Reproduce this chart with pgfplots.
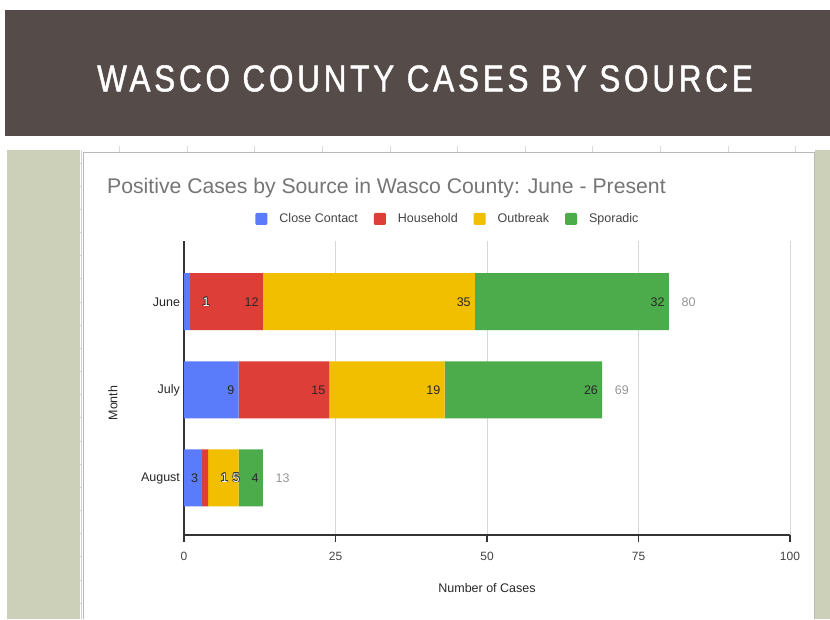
\documentclass[border=0pt]{standalone}
\usepackage{fontspec}
\setmainfont{Liberation Sans}
\newfontfamily\bannerfont[FakeStretch=0.84, FakeBold=1.2, LetterSpace=10]{Liberation Sans}
\usepackage{pgfplots}
\pgfplotsset{compat=1.18}

\definecolor{banner}{RGB}{85,75,72}
\definecolor{side}{RGB}{205,208,185}
\definecolor{ccblue}{RGB}{91,124,250}
\definecolor{hhred}{RGB}{222,62,56}
\definecolor{obyellow}{RGB}{242,190,0}
\definecolor{spgreen}{RGB}{76,172,76}
\definecolor{titlegray}{RGB}{117,117,117}
\definecolor{textdark}{RGB}{40,40,40}
\definecolor{tickgray}{RGB}{68,68,68}
\definecolor{totalgray}{RGB}{150,150,150}
\definecolor{gridgray}{RGB}{215,215,215}
\definecolor{axisdark}{RGB}{51,51,51}

\protected\def\oc#1#2#3{\makebox[0pt][l]{\hspace*{#1}\raisebox{#2}{\textcolor{axisdark}{#3}}}}
\protected\def\outl#1{\oc{-0.8pt}{0pt}{#1}\oc{0.8pt}{0pt}{#1}\oc{0pt}{0.8pt}{#1}\oc{0pt}{-0.8pt}{#1}\oc{0.6pt}{0.6pt}{#1}\oc{-0.6pt}{0.6pt}{#1}\oc{0.6pt}{-0.6pt}{#1}\oc{-0.6pt}{-0.6pt}{#1}\textcolor{white}{#1}}
\protected\def\shl#1#2{\makebox[0pt][l]{\hspace*{#1}\outl{#2}}}
\protected\def\tot#1#2{#1\rlap{\hspace*{17pt}\textcolor{totalgray}{#2}}}

\begin{document}
\begin{tikzpicture}
\path[use as bounding box] (0,0) rectangle (830pt,619pt);
\fill[white] (0,0) rectangle (830pt,619pt);
% banner
\fill[banner] (5pt,483pt) rectangle (830pt,609pt);
\node[white, font=\bannerfont\fontsize{37.5}{37.5}\selectfont] at (425pt,540.5pt) {WASCO COUNTY CASES BY SOURCE};
% side panels
\fill[side] (7pt,0) rectangle (80pt,469pt);
\fill[side] (815pt,0) rectangle (830pt,469pt);
% ruler lines
\draw[gray!35, line width=0.6pt] (81pt,0) -- (81pt,469pt);
\foreach \k in {0,...,19} \draw[gray!35, line width=0.6pt] (78.5pt,{(456-23.16*\k)*1pt}) -- (81pt,{(456-23.16*\k)*1pt});
\foreach \x in {119,187,254,322,390,457,525,592,660,728,795} \draw[gray!30, line width=0.6pt] (\x pt,467pt) -- (\x pt,473pt);
% chart frame
\draw[gray!55, line width=0.8pt] (83pt,0) -- (83pt,467pt) -- (814pt,467pt) -- (814pt,0);
% chart title
\node[anchor=base west, text=titlegray, font=\fontsize{21.2}{21.2}\selectfont, inner sep=0pt] at (107pt,425.7pt) {Positive Cases by Source in Wasco County: June - Present};

\begin{axis}[
  at={(184pt,84pt)}, anchor=south west,
  scale only axis, width=606pt, height=294pt,
  xbar stacked, bar width=57pt,
  xmin=0, xmax=100, ymin=-0.69, ymax=2.65, y dir=reverse,
  ytick={0,1,2}, yticklabels={June,July,August},
  xtick={0,25,50,75,100},
  axis x line*=bottom, axis y line*=left,
  axis line style={axisdark, line width=1.3pt, -},
  xmajorgrids, grid style={gridgray, line width=0.9pt},
  major tick length=7pt, xtick align=outside,
  xtick style={axisdark, line width=1.2pt},
  ytick style={draw=none},
  /pgf/number format/assume math mode=true,
  xticklabel style={font=\fontsize{12}{12}\selectfont, text=tickgray, yshift=-7pt},
  yticklabel style={font=\fontsize{12.5}{12.5}\selectfont, text=textdark, xshift=-0.5pt, yshift=-1pt},
  xlabel={Number of Cases},
  xlabel style={at={(axis description cs:0.5,-0.1803)}, anchor=center, font=\fontsize{12.5}{12.5}\selectfont, text=textdark},
  ylabel={Month},
  ylabel style={at={(axis description cs:-0.1172,0.449)}, anchor=center, font=\fontsize{12.5}{12.5}\selectfont, text=textdark},
  point meta=explicit symbolic,
  nodes near coords,
  visualization depends on={rawx \as \rawx},
  every node near coord/.append style={anchor=east, xshift={(3.03*\rawx-4)*1pt}, inner sep=0pt, font=\fontsize{12.5}{12.5}\selectfont, text=textdark},
  legend style={at={(axis description cs:0.4356,1.075)}, anchor=center, draw=none, fill=none,
    legend columns=4, font=\fontsize{12.5}{12.5}\selectfont, text=tickgray,
    /tikz/every odd column/.append style={column sep=10pt},
    /tikz/every even column/.append style={column sep=14pt}},
  legend image code/.code={\path[#1,draw=none,rounded corners=1.2pt] (0pt,-6pt) rectangle (12pt,6pt);},
]
\addplot[fill=ccblue, draw=none] coordinates {(1,0) [\shl{17.2pt}{1}] (9,1) [9] (3,2) [3]};
\addplot[fill=hhred, draw=none] coordinates {(12,0) [12] (15,1) [15] (1,2) [\shl{17.5pt}{1}]};
\addplot[fill=obyellow, draw=none] coordinates {(35,0) [35] (19,1) [19] (5,2) [\shl{-1.2pt}{5}]};
\addplot[fill=spgreen, draw=none] coordinates {(32,0) [\tot{32}{80}] (26,1) [\tot{26}{69}] (4,2) [\tot{4}{13}]};
\legend{Close Contact, Household, Outbreak, Sporadic}
\end{axis}
\end{tikzpicture}
\end{document}
